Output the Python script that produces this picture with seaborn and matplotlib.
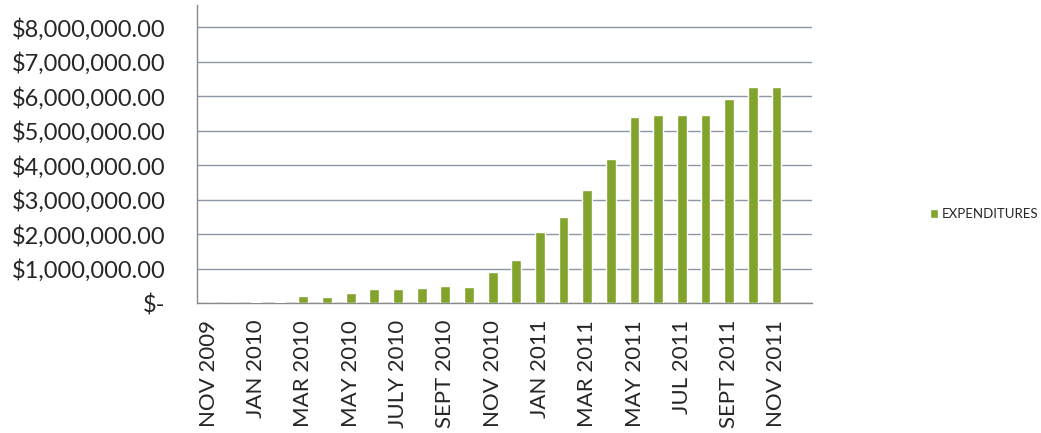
import matplotlib
matplotlib.use("Agg")
import matplotlib.pyplot as plt
import matplotlib.ticker as mticker
import numpy as np
import pandas as pd
import seaborn as sns

# monthly categories, NOV 2009 .. DEC 2011 (last one has no bar)
months = ["NOV 2009", "DEC 2009", "JAN 2010", "FEB 2010", "MAR 2010", "APR 2010",
          "MAY 2010", "JUN 2010", "JULY 2010", "AUG 2010", "SEPT 2010", "OCT 2010",
          "NOV 2010", "DEC 2010", "JAN 2011", "FEB 2011", "MAR 2011", "APR 2011",
          "MAY 2011", "JUN 2011", "JUL 2011", "AUG 2011", "SEPT 2011", "OCT 2011",
          "NOV 2011", "DEC 2011"]
expenditures = [0, 0, 30000, 30000, 195000, 190000,
                300000, 405000, 400000, 445000, 485000, 480000,
                890000, 1260000, 2050000, 2500000, 3280000, 4180000,
                5410000, 5450000, 5450000, 5450000, 5930000, 6260000,
                6260000, np.nan]
# only every other month is labelled on the axis
shown_labels = ["NOV 2009", "JAN 2010", "MAR 2010", "MAY 2010", "JULY 2010", "SEPT 2010",
                "NOV 2010", "JAN 2011", "MAR 2011", "MAY 2011", "JUL 2011", "SEPT 2011",
                "NOV 2011"]

df = pd.DataFrame({"month": months, "value": expenditures})

sns.set_style("white")
plt.rcParams["font.family"] = ["Lato", "DejaVu Sans"]

fig = plt.figure(figsize=(10.41, 4.33), dpi=100)
ax = fig.add_axes([0.189, 0.300, 0.591, 0.688])

sns.barplot(data=df, x="month", y="value", order=months, color="#82a42c",
            width=0.42, saturation=1, label="EXPENDITURES", ax=ax, zorder=3)

ax.set_xlim(-0.5, len(months) - 0.5)
ax.set_ylim(0, 8640000)
ax.set_yticks(np.arange(0, 8000001, 1000000))

def money(v, pos):
    if v == 0:
        return "$-"
    return "${:,.2f}".format(v)

ax.yaxis.set_major_formatter(mticker.FuncFormatter(money))
ax.grid(axis="y", color="#8b96a6", linewidth=1.0, zorder=0)

pos = [months.index(m) for m in shown_labels]
ax.set_xticks(pos)
ax.set_xticklabels(shown_labels, rotation=90, fontsize=16)
ax.set_xticks(np.arange(-0.5, len(months)), minor=True)
ax.tick_params(axis="x", which="major", length=0, pad=12)
ax.tick_params(axis="x", which="minor", length=6, color="#8a8a8a", direction="out")
ax.tick_params(axis="y", labelsize=17, length=5, color="#8a8a8a", direction="inout", pad=20)

for s in ["top", "right"]:
    ax.spines[s].set_visible(False)
for s in ["left", "bottom"]:
    ax.spines[s].set_color("#8a8a8a")
    ax.spines[s].set_linewidth(1.0)

ax.set_xlabel("")
ax.set_ylabel("")

ax.legend(loc="center left", bbox_to_anchor=(0.893, 0.505), bbox_transform=fig.transFigure,
          frameon=False, fontsize=9.5, handlelength=0.6, handleheight=0.6, handletextpad=0.35,
          borderpad=0, borderaxespad=0)

fig.savefig("out.png", dpi=100)
